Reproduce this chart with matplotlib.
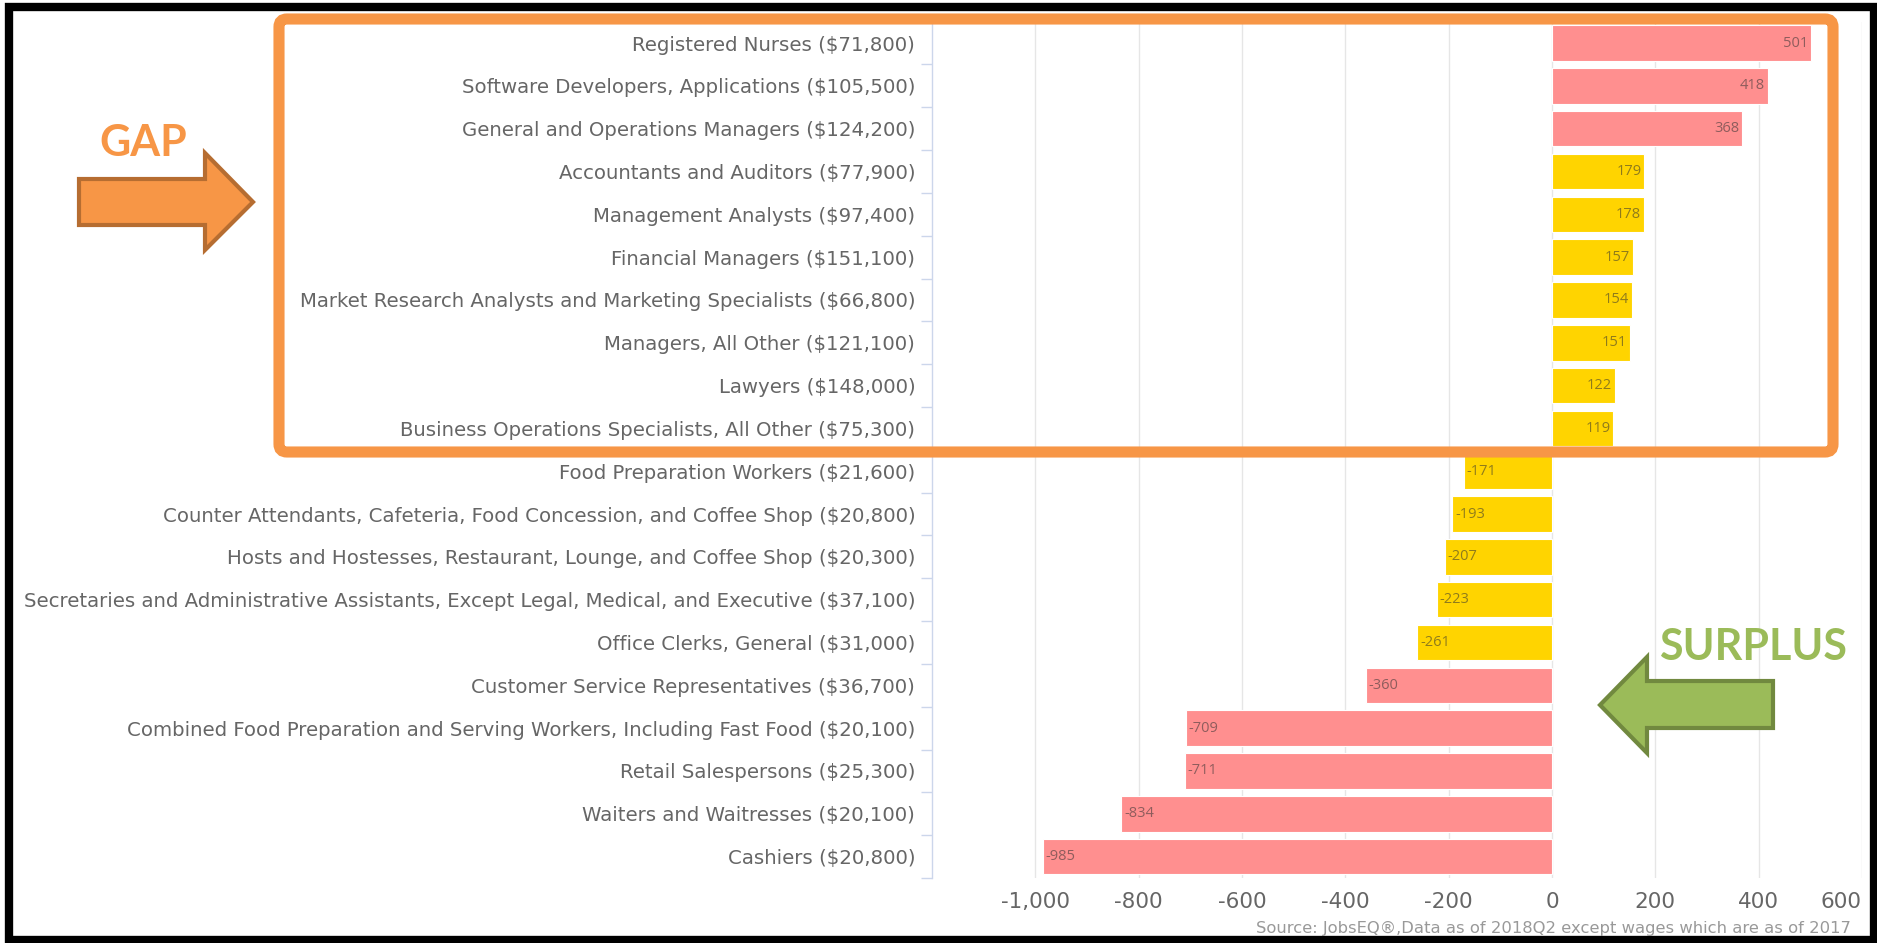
import matplotlib
matplotlib.use("Agg")
import matplotlib.pyplot as plt
import numpy as np
from matplotlib.patches import Polygon, FancyBboxPatch, Rectangle
from matplotlib.ticker import FuncFormatter

# occupations (with median wage) and gap/surplus values, top to bottom
occupations = [
    "Registered Nurses ($71,800)",
    "Software Developers, Applications ($105,500)",
    "General and Operations Managers ($124,200)",
    "Accountants and Auditors ($77,900)",
    "Management Analysts ($97,400)",
    "Financial Managers ($151,100)",
    "Market Research Analysts and Marketing Specialists ($66,800)",
    "Managers, All Other ($121,100)",
    "Lawyers ($148,000)",
    "Business Operations Specialists, All Other ($75,300)",
    "Food Preparation Workers ($21,600)",
    "Counter Attendants, Cafeteria, Food Concession, and Coffee Shop ($20,800)",
    "Hosts and Hostesses, Restaurant, Lounge, and Coffee Shop ($20,300)",
    "Secretaries and Administrative Assistants, Except Legal, Medical, and Executive ($37,100)",
    "Office Clerks, General ($31,000)",
    "Customer Service Representatives ($36,700)",
    "Combined Food Preparation and Serving Workers, Including Fast Food ($20,100)",
    "Retail Salespersons ($25,300)",
    "Waiters and Waitresses ($20,100)",
    "Cashiers ($20,800)",
]
gaps = [501, 418, 368, 179, 178, 157, 154, 151, 122, 119,
        -171, -193, -207, -223, -261, -360, -709, -711, -834, -985]
x_ticks = [-1000, -800, -600, -400, -200, 0, 200, 400, 600]

PINK = "#ff8f8f"
GOLD = "#ffd400"
ORANGE = "#f79646"
GREEN = "#9bbb59"

W, H = 1877, 943
fig = plt.figure(figsize=(W / 100, H / 100), dpi=100)
fig.patch.set_facecolor("white")

# main chart area (pixel layout)
left, right, top, bottom = 932, 1862, 21.6, 878
ax = fig.add_axes([left / W, 1 - bottom / H, (right - left) / W, (bottom - top) / H])

ypos = np.arange(len(occupations))
colors = [PINK if abs(v) > 300 else GOLD for v in gaps]
ax.barh(ypos, gaps, height=0.83, color=colors, edgecolor="white", linewidth=0.8, zorder=3)

for y, v in zip(ypos, gaps):
    if v >= 0:
        ax.annotate(str(v), (v, y), xytext=(-2, 0), textcoords="offset points",
                    ha="right", va="center", fontsize=10.5, family="Open Sans",
                    color="#333333", alpha=0.55, zorder=4)
    else:
        ax.annotate(str(v), (v, y), xytext=(2, 0), textcoords="offset points",
                    ha="left", va="center", fontsize=10.5, family="Open Sans",
                    color="#333333", alpha=0.55, zorder=4)

ax.set_xlim(-1200, 600)
ax.set_ylim(len(occupations) - 0.5, -0.5)

ax.set_yticks(ypos)
ax.set_yticklabels(occupations, family="DejaVu Sans", fontsize=14.2, color="#666666")
ax.set_yticks(np.arange(len(occupations) + 1) - 0.5, minor=True)
ax.tick_params(axis="y", which="major", length=0, pad=12)
ax.tick_params(axis="y", which="minor", length=8, color="#ccd6eb", width=1)

ax.set_xticks(x_ticks)
ax.xaxis.set_major_formatter(FuncFormatter(lambda v, p: f"{int(v):,}"))
ax.tick_params(axis="x", length=0, pad=10, labelsize=15.5, labelcolor="#666666")
for lab in ax.get_xticklabels():
    lab.set_family("DejaVu Sans")
ax.get_xticklabels()[-1].set_ha("right")

ax.grid(axis="x", color="#e6e6e6", linewidth=1, zorder=0)
ax.set_axisbelow(True)
for s in ["top", "right", "bottom"]:
    ax.spines[s].set_visible(False)
ax.spines["left"].set_color("#ccd6eb")
ax.spines["left"].set_linewidth(1)

fig.text(1851 / W, 1 - 928 / H,
         "Source: JobsEQ®,Data as of 2018Q2 except wages which are as of 2017",
         ha="right", va="center", fontsize=11.8, color="#999999", family="DejaVu Sans")

# overlay in pixel coordinates for the annotations
ov = fig.add_axes([0, 0, 1, 1], facecolor="none")
ov.set_xlim(0, W)
ov.set_ylim(H, 0)
ov.axis("off")

ov.add_patch(Rectangle((9, 7), 1865, 933, fill=False, edgecolor="black", linewidth=6))
ov.add_patch(FancyBboxPatch((279, 19), 1833 - 279, 452 - 19,
                            boxstyle="round,pad=0,rounding_size=8",
                            fill=False, edgecolor=ORANGE, linewidth=8))

gap_arrow = [(79, 179), (205, 179), (205, 153), (253, 202), (205, 250), (205, 225), (79, 225)]
ov.add_patch(Polygon(gap_arrow, closed=True, facecolor=ORANGE, edgecolor="#b66d31",
                     linewidth=3, joinstyle="miter"))
ov.text(143.5, 143, "GAP", ha="center", va="center", fontsize=31, fontweight="bold",
        family="Lato", color=ORANGE)

surplus_arrow = [(1773, 681), (1647, 681), (1647, 657), (1600, 705), (1647, 753), (1647, 728), (1773, 728)]
ov.add_patch(Polygon(surplus_arrow, closed=True, facecolor=GREEN, edgecolor="#71893f",
                     linewidth=3, joinstyle="miter"))
ov.text(1753.5, 647.5, "SURPLUS", ha="center", va="center", fontsize=31, fontweight="bold",
        family="Lato", color=GREEN)

fig.savefig("out.png", dpi=100)
